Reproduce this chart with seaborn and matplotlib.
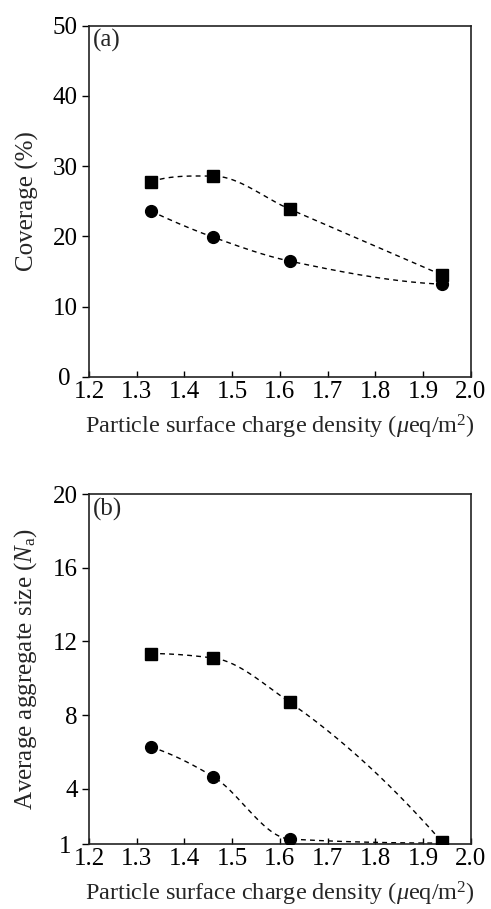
import numpy as np
import pandas as pd
import matplotlib
matplotlib.use("Agg")
import matplotlib.pyplot as plt
import matplotlib.transforms as mtransforms
import seaborn as sns

# Data
charge = [1.33, 1.46, 1.62, 1.94]
cov_square = [27.8, 28.6, 23.9, 14.5]
cov_circle = [23.6, 19.9, 16.5, 13.2]
size_square = [11.34, 11.1, 8.7, 1.1]
size_circle = [6.27, 4.66, 1.27, 1.05]

x_ticks = [1.2, 1.3, 1.4, 1.5, 1.6, 1.7, 1.8, 1.9, 2.0]
cov_ticks = [0, 10, 20, 30, 40, 50]
size_ticks = [1, 4, 8, 12, 16, 20]


def pchip(x, y, n=200):
    # monotone cubic through the points, used for the dashed guide curves
    x = np.asarray(x, float)
    y = np.asarray(y, float)
    h = np.diff(x)
    d = np.diff(y) / h
    m = np.zeros_like(y)
    for k in range(1, len(x) - 1):
        if d[k - 1] * d[k] > 0:
            w1 = 2 * h[k] + h[k - 1]
            w2 = h[k] + 2 * h[k - 1]
            m[k] = (w1 + w2) / (w1 / d[k - 1] + w2 / d[k])
    m[0] = ((2 * h[0] + h[1]) * d[0] - h[0] * d[1]) / (h[0] + h[1])
    if np.sign(m[0]) != np.sign(d[0]):
        m[0] = 0
    m[-1] = ((2 * h[-1] + h[-2]) * d[-1] - h[-1] * d[-2]) / (h[-1] + h[-2])
    if np.sign(m[-1]) != np.sign(d[-1]):
        m[-1] = 0
    xs = np.linspace(x[0], x[-1], n)
    idx = np.clip(np.searchsorted(x, xs) - 1, 0, len(x) - 2)
    t = (xs - x[idx]) / h[idx]
    h00 = 2 * t**3 - 3 * t**2 + 1
    h10 = t**3 - 2 * t**2 + t
    h01 = -2 * t**3 + 3 * t**2
    h11 = t**3 - t**2
    ys = h00 * y[idx] + h10 * h[idx] * m[idx] + h01 * y[idx + 1] + h11 * h[idx] * m[idx + 1]
    return xs, ys


sns.set_theme(style="ticks")
plt.rcParams['font.family'] = ['Liberation Serif', 'DejaVu Serif']
plt.rcParams['mathtext.fontset'] = 'custom'
plt.rcParams['mathtext.rm'] = 'Liberation Serif'
plt.rcParams['mathtext.it'] = 'Liberation Serif:italic'

fs = 18
fig = plt.figure(figsize=(4.91, 9.09), dpi=100)
ax1 = fig.add_axes([0.1813, 0.5853, 0.7778, 0.3864])
ax2 = fig.add_axes([0.1813, 0.0715, 0.7778, 0.3850])

panels = [
    (ax1, cov_square, cov_circle, (0, 50), cov_ticks, "Coverage (%)", "(a)"),
    (ax2, size_square, size_circle, (1, 20), size_ticks,
     r"Average aggregate size ($\mathit{N}_{\mathrm{a}}$)", "(b)"),
]

for ax, sq, ci, ylim, yt, ylab, tag in panels:
    for vals, mk, ms in [(sq, 's', 9), (ci, 'o', 8.5)]:
        xs, ys = pchip(charge, vals)
        sns.lineplot(x=xs, y=ys, ax=ax, color='black', lw=1.0,
                     linestyle=(0, (3.5, 3)), sort=False)
        df = pd.DataFrame({"x": charge, "y": vals})
        ax.plot(df["x"], df["y"], linestyle='none', marker=mk, ms=ms,
                color='black', zorder=5)
    ax.set_xlim(1.2, 2.0)
    ax.set_ylim(*ylim)
    ax.set_xticks(x_ticks)
    ax.set_xticklabels([f"{v:.1f}" for v in x_ticks])
    ax.set_yticks(yt)
    ax.tick_params(axis='x', direction='in', length=4, width=1,
                   labelsize=fs, colors='black', pad=3)
    ax.tick_params(axis='y', direction='out', length=5, width=1,
                   labelsize=fs, colors='black', pad=3)
    for s in ax.spines.values():
        s.set_linewidth(1.2)
        s.set_color('#222222')
    ax.set_ylabel(ylab, fontsize=fs, labelpad=10)
    ax.set_xlabel(r"Particle surface charge density ($\mathit{\mu}$eq/m$^{2}$)",
                  fontsize=17.5, labelpad=7)
    ax.text(0.01, 0.99, tag, transform=ax.transAxes, ha='left', va='top',
            fontsize=fs)
    # bottom y label sits a little further left, clear of the x labels
    lab = ax.get_yticklabels()[0]
    lab.set_transform(lab.get_transform() +
                      mtransforms.ScaledTranslation(-7 / 100, 0, fig.dpi_scale_trans))

fig.savefig("out.png", dpi=100)
